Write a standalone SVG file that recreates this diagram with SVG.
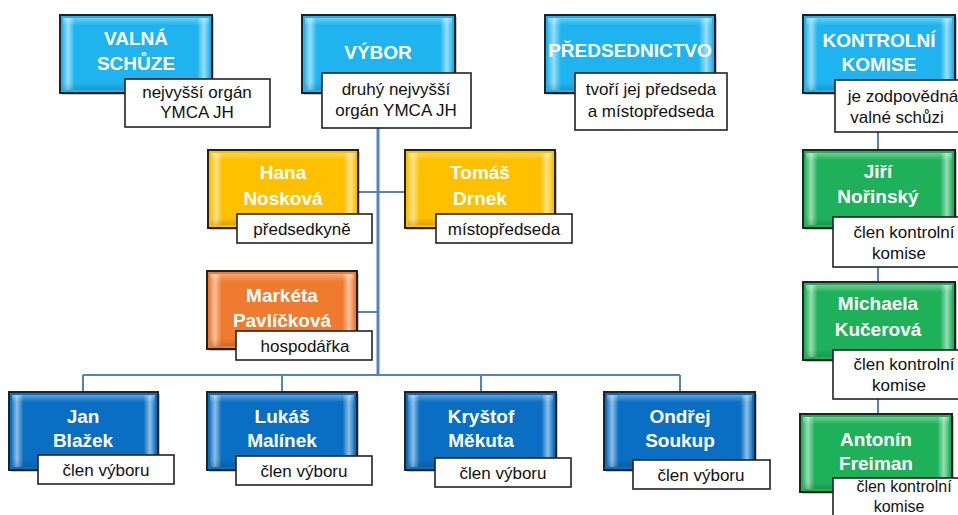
<svg xmlns="http://www.w3.org/2000/svg" width="958" height="515" viewBox="0 0 958 515">
<defs>
<linearGradient id="side" x1="0" y1="0" x2="1" y2="0">
<stop offset="0" stop-color="#fff" stop-opacity="0.1"/>
<stop offset="0.035" stop-color="#fff" stop-opacity="0.55"/>
<stop offset="0.08" stop-color="#fff" stop-opacity="0"/>
<stop offset="0.92" stop-color="#fff" stop-opacity="0"/>
<stop offset="0.965" stop-color="#fff" stop-opacity="0.55"/>
<stop offset="1" stop-color="#fff" stop-opacity="0.1"/>
</linearGradient>
<linearGradient id="topg" x1="0" y1="0" x2="0" y2="1">
<stop offset="0" stop-color="#fff" stop-opacity="0.35"/>
<stop offset="0.1" stop-color="#fff" stop-opacity="0"/>
<stop offset="0.9" stop-color="#000" stop-opacity="0"/>
<stop offset="1" stop-color="#000" stop-opacity="0.15"/>
</linearGradient>
</defs>
<style>
.box{stroke:#222;stroke-width:2}
.lb{fill:#1fb4ef}.db{fill:#0a6fc2}.ye{fill:#ffc000}.or{fill:#ee7b30}.gr{fill:#1fb159}
.sh{fill:#000;opacity:0.22}
.side{fill:url(#side)}.top{fill:url(#topg)}
.lab{fill:#fff;stroke:#222;stroke-width:1.6}
.t{font-family:"Liberation Sans",Arial,sans-serif;font-weight:bold;font-size:19px;fill:#fff;text-anchor:middle}
.s{font-family:"Liberation Sans",Arial,sans-serif;font-size:17px;fill:#111;text-anchor:middle}
.c{fill:none;stroke:#5483b8;stroke-width:2}
.cv{fill:none;stroke:#5483b8;stroke-width:3}
</style>
<rect width="958" height="515" fill="#fff"/>
<g id="connectors">
<path class="cv" d="M378 128V375"/>
<path class="c" d="M358 192H405M357 312H378M83 375H680M83 375V392M282 375V392M481 375V392M680 375V392"/>
<path class="c" d="M878 132V420"/>
</g>

<g id="valna">
<rect class="sh" x="62" y="17" width="152" height="78"/>
<rect class="box lb" x="60" y="15" width="152" height="78"/>
<rect class="side" x="63" y="18" width="146" height="72"/><rect class="top" x="63" y="18" width="146" height="72"/>
<text class="t" x="136" y="45">VALNÁ</text><text class="t" x="136" y="70">SCHŮZE</text>
<rect class="lab" x="125" y="79" width="145" height="48"/>
<text class="s" x="197" y="98">nejvyšší orgán</text><text class="s" x="197" y="118">YMCA JH</text>
</g>

<g id="vybor">
<rect class="sh" x="304" y="17" width="153" height="78"/>
<rect class="box lb" x="302" y="15" width="153" height="78"/>
<rect class="side" x="305" y="18" width="147" height="72"/><rect class="top" x="305" y="18" width="147" height="72"/>
<text class="t" x="378" y="59">VÝBOR</text>
<rect class="lab" x="322" y="73" width="149" height="55"/>
<text class="s" x="396" y="95">druhý nejvyšší</text><text class="s" x="396" y="116">orgán YMCA JH</text>
</g>

<g id="predsednictvo">
<rect class="sh" x="547" y="17" width="170" height="78"/>
<rect class="box lb" x="545" y="15" width="170" height="78"/>
<rect class="side" x="548" y="18" width="164" height="72"/><rect class="top" x="548" y="18" width="164" height="72"/>
<text class="t" x="630" y="57">PŘEDSEDNICTVO</text>
<rect class="lab" x="575" y="73" width="152" height="57"/>
<text class="s" x="651" y="95">tvoří jej předseda</text><text class="s" x="651" y="117">a místopředseda</text>
</g>

<g id="kontrolni">
<rect class="sh" x="805" y="17" width="152" height="78"/>
<rect class="box lb" x="803" y="15" width="152" height="78"/>
<rect class="side" x="806" y="18" width="146" height="72"/><rect class="top" x="806" y="18" width="146" height="72"/>
<text class="t" x="879" y="47">KONTROLNÍ</text><text class="t" x="879" y="71">KOMISE</text>
<rect class="lab" x="835" y="80" width="130" height="52"/>
<text class="s" x="903" y="102">je zodpovědná</text><text class="s" x="897" y="123">valné schůzi</text>
</g>

<g id="hana">
<rect class="sh" x="210" y="152" width="150" height="78"/>
<rect class="box ye" x="208" y="150" width="150" height="78"/>
<rect class="side" x="211" y="153" width="144" height="72"/><rect class="top" x="211" y="153" width="144" height="72"/>
<text class="t" x="283" y="179">Hana</text><text class="t" x="283" y="205">Nosková</text>
<rect class="lab" x="237" y="214" width="135" height="29"/>
<text class="s" x="302" y="235">předsedkyně</text>
</g>

<g id="tomas">
<rect class="sh" x="407" y="152" width="150" height="78"/>
<rect class="box ye" x="405" y="150" width="150" height="78"/>
<rect class="side" x="408" y="153" width="144" height="72"/><rect class="top" x="408" y="153" width="144" height="72"/>
<text class="t" x="480" y="179">Tomáš</text><text class="t" x="480" y="205">Drnek</text>
<rect class="lab" x="436" y="214" width="136" height="29"/>
<text class="s" x="504" y="235">místopředseda</text>
</g>

<g id="marketa">
<rect class="sh" x="209" y="273" width="150" height="78"/>
<rect class="box or" x="207" y="271" width="150" height="78"/>
<rect class="side" x="210" y="274" width="144" height="72"/><rect class="top" x="210" y="274" width="144" height="72"/>
<text class="t" x="282" y="302">Markéta</text><text class="t" x="282" y="327">Pavlíčková</text>
<rect class="lab" x="236" y="331" width="136" height="29"/>
<text class="s" x="305" y="352">hospodářka</text>
</g>

<g id="jan">
<rect class="sh" x="11" y="394" width="149" height="78"/>
<rect class="box db" x="9" y="392" width="149" height="78"/>
<rect class="side" x="12" y="395" width="143" height="72"/><rect class="top" x="12" y="395" width="143" height="72"/>
<text class="t" x="83" y="423">Jan</text><text class="t" x="83" y="447">Blažek</text>
<rect class="lab" x="38" y="455" width="136" height="29"/>
<text class="s" x="106" y="476">člen výboru</text>
</g>

<g id="lukas">
<rect class="sh" x="209" y="394" width="150" height="78"/>
<rect class="box db" x="207" y="392" width="150" height="78"/>
<rect class="side" x="210" y="395" width="144" height="72"/><rect class="top" x="210" y="395" width="144" height="72"/>
<text class="t" x="282" y="423">Lukáš</text><text class="t" x="282" y="447">Malínek</text>
<rect class="lab" x="236" y="456" width="136" height="29"/>
<text class="s" x="304" y="477">člen výboru</text>
</g>

<g id="krystof">
<rect class="sh" x="407" y="394" width="151" height="78"/>
<rect class="box db" x="405" y="392" width="151" height="78"/>
<rect class="side" x="408" y="395" width="145" height="72"/><rect class="top" x="408" y="395" width="145" height="72"/>
<text class="t" x="481" y="423">Kryštof</text><text class="t" x="481" y="447">Měkuta</text>
<rect class="lab" x="435" y="458" width="136" height="29"/>
<text class="s" x="503" y="479">člen výboru</text>
</g>

<g id="ondrej">
<rect class="sh" x="606" y="394" width="151" height="78"/>
<rect class="box db" x="604" y="392" width="151" height="78"/>
<rect class="side" x="607" y="395" width="145" height="72"/><rect class="top" x="607" y="395" width="145" height="72"/>
<text class="t" x="680" y="423">Ondřej</text><text class="t" x="680" y="447">Soukup</text>
<rect class="lab" x="633" y="460" width="137" height="29"/>
<text class="s" x="701" y="481">člen výboru</text>
</g>

<g id="jiri">
<rect class="sh" x="805" y="152" width="152" height="78"/>
<rect class="box gr" x="803" y="150" width="152" height="78"/>
<rect class="side" x="806" y="153" width="146" height="72"/><rect class="top" x="806" y="153" width="146" height="72"/>
<text class="t" x="878" y="178">Jiří</text><text class="t" x="878" y="203">Nořinský</text>
<rect class="lab" x="833" y="217" width="132" height="50"/>
<text class="s" x="904" y="238">člen kontrolní</text><text class="s" x="899" y="259">komise</text>
</g>

<g id="michaela">
<rect class="sh" x="805" y="284" width="152" height="78"/>
<rect class="box gr" x="803" y="282" width="152" height="78"/>
<rect class="side" x="806" y="285" width="146" height="72"/><rect class="top" x="806" y="285" width="146" height="72"/>
<text class="t" x="878" y="310">Michaela</text><text class="t" x="878" y="336">Kučerová</text>
<rect class="lab" x="833" y="350" width="132" height="49"/>
<text class="s" x="904" y="370">člen kontrolní</text><text class="s" x="899" y="391">komise</text>
</g>

<g id="antonin">
<rect class="sh" x="802" y="416" width="152" height="78"/>
<rect class="box gr" x="800" y="414" width="152" height="78"/>
<rect class="side" x="803" y="417" width="146" height="72"/><rect class="top" x="803" y="417" width="146" height="72"/>
<text class="t" x="876" y="446">Antonín</text><text class="t" x="876" y="470">Freiman</text>
<rect class="lab" x="833" y="478" width="132" height="45"/>
<text class="s" x="904" y="492" style="font-size:16px">člen kontrolní</text><text class="s" x="899" y="512" style="font-size:16px">komise</text>
</g>
</svg>
